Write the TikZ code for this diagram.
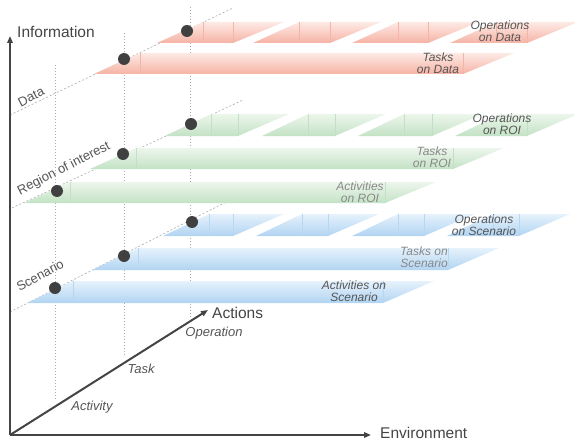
\documentclass[tikz,border=0pt]{standalone}
\usepackage{fontspec}
\setmainfont{Liberation Sans}
\usetikzlibrary{arrows.meta,shadings}
\definecolor{axisgray}{HTML}{444444}
\definecolor{txtdark}{HTML}{555555}
\definecolor{txtlight}{HTML}{888888}
\definecolor{guide}{HTML}{AAAAAA}
\definecolor{dotfill}{HTML}{404040}
\definecolor{redtop}{HTML}{FDEAE5}
\definecolor{redbot}{HTML}{F6B3A5}
\definecolor{redline}{HTML}{F4B4A6}
\definecolor{greentop}{HTML}{EDF6EC}
\definecolor{greenbot}{HTML}{C3E2C5}
\definecolor{greenline}{HTML}{C2E1C4}
\definecolor{bluetop}{HTML}{E6F2FC}
\definecolor{bluebot}{HTML}{B1D4F2}
\definecolor{blueline}{HTML}{B7D7F1}
% strip: #1 palette, #2 x bottom-left, #3 x bottom-right, #4 y top, #5 y bottom
\newcommand{\slab}[5]{%
  \shade[top color=#1top, bottom color=#1bot]
    (#2,#5) -- (#3,#5) -- ({#3+51},#4) -- ({#2+46},#4) -- cycle;
  \draw[#1line, line width=0.3pt] ({#2+46},#4) -- ({#2+46},#5);
  \draw[#1line, line width=0.3pt] (#3,#4) -- (#3,#5);
}
\tikzset{
  axisline/.style={axisgray, line width=2pt, -{Triangle[length=7pt,width=5.5pt]}},
  vguide/.style={guide, line width=0.7pt, dash pattern=on 1pt off 2pt},
  dguide/.style={guide, line width=0.6pt, dash pattern=on 2pt off 2pt},
  ball/.style={circle, fill=dotfill, minimum size=12pt, inner sep=0pt},
  axislabel/.style={axisgray, font=\fontsize{15.5}{17}\selectfont, inner sep=0pt},
  actlabel/.style={txtdark, font=\fontsize{13}{15}\selectfont\itshape, inner sep=0pt},
  layerlabel/.style={txtdark, font=\fontsize{13}{15}\selectfont, inner sep=0pt},
  striplabel/.style={txtdark, font=\fontsize{12}{12.5}\selectfont\itshape, align=center, inner sep=0pt},
  striplabellight/.style={striplabel, txtlight},
}
\begin{document}
\begin{tikzpicture}[x=1pt, y=-1pt]
\useasboundingbox (0,0) rectangle (575,441);

% guide coordinates
\coordinate (va1) at (55,65);   \coordinate (vb1) at (55,400);
\coordinate (va2) at (124,33);  \coordinate (vb2) at (124,355);
\coordinate (va3) at (190,7);   \coordinate (vb3) at (190,317);
\coordinate (dataS) at (10,115);  \coordinate (dataE) at (233,8);
\coordinate (roiS) at (12,208);   \coordinate (roiE) at (243,100);
\coordinate (scenS) at (10,312);  \coordinate (scenE) at (232,199);

\draw[vguide] (va1) -- (vb1);
\draw[vguide] (va2) -- (vb2);
\draw[vguide] (va3) -- (vb3);
\draw[dguide] (dataS) -- (dataE);
\draw[dguide] (roiS) -- (roiE);
\draw[dguide] (scenS) -- (scenE);

% Data layer (red)
\slab{red}{157}{233}{22}{43}
\slab{red}{253}{330}{22}{43}
\slab{red}{352}{428}{22}{43}
\slab{red}{450}{527}{22}{43}
\slab{red}{94}{463}{53}{74}

% ROI layer (green)
\slab{green}{165}{238}{114}{136}
\slab{green}{262}{335}{114}{136}
\slab{green}{358}{432}{114}{136}
\slab{green}{455}{527}{114}{136}
\slab{green}{90}{453}{148}{169}
\slab{green}{24}{385}{182}{203}

% Scenario layer (blue)
\slab{blue}{163}{233}{214}{236}
\slab{blue}{256}{328}{214}{236}
\slab{blue}{352}{424}{214}{236}
\slab{blue}{447}{519}{214}{236}
\slab{blue}{92}{448}{248}{270}
\slab{blue}{27}{383}{281}{303}

% dots
\node[ball] (d1) at (124,59) {};
\node[ball] (d2) at (187,31) {};
\node[ball] (r1) at (57,191) {};
\node[ball] (r2) at (123,154) {};
\node[ball] (r3) at (191,124) {};
\node[ball] (s1) at (55,288) {};
\node[ball] (s2) at (124,256) {};
\node[ball] (s3) at (192,222) {};

% strip labels
\node[striplabel] (lopdata) at (500,31) {Operations\\on Data};
\node[striplabel] (ltkdata) at (438,63) {Tasks\\on Data};
\node[striplabel] (lopro) at (502,124) {Operations\\on ROI};
\node[striplabellight] (ltkroi) at (432,157) {Tasks\\on ROI};
\node[striplabellight] (lacroi) at (360,192) {Activities\\on ROI};
\node[striplabel] (lopsc) at (484,225) {Operations\\on Scenario};
\node[striplabellight] (ltksc) at (424,257) {Tasks on\\Scenario};
\node[striplabel] (lacsc) at (354,291) {Activities on\\Scenario};

% layer labels
\node[layerlabel, rotate=27] (ldata) at (31,97) {Data};
\node[layerlabel, rotate=27] (lroi) at (64,169) {Region of interest};
\node[layerlabel, rotate=28] (lscen) at (40,275) {Scenario};

% axes
\coordinate (O) at (10,435);
\coordinate (Ytip) at (10,36);
\coordinate (Xtip) at (371,435);
\coordinate (Atip) at (208,310);
\draw[axisline] (O) -- (Ytip);
\draw[axisline] (O) -- (Xtip);
\draw[axisline] (O) -- (Atip);

\node[axislabel, anchor=west] (linfo) at (17,32) {Information};
\node[axislabel, anchor=west] (lenv) at (380,433) {Environment};
\node[axislabel, anchor=west] (lact) at (212,313) {Actions};

\node[actlabel] (lop) at (214,333) {Operation};
\node[actlabel] (ltask) at (141,369) {Task};
\node[actlabel] (lactv) at (92,407) {Activity};
\end{tikzpicture}
\end{document}
